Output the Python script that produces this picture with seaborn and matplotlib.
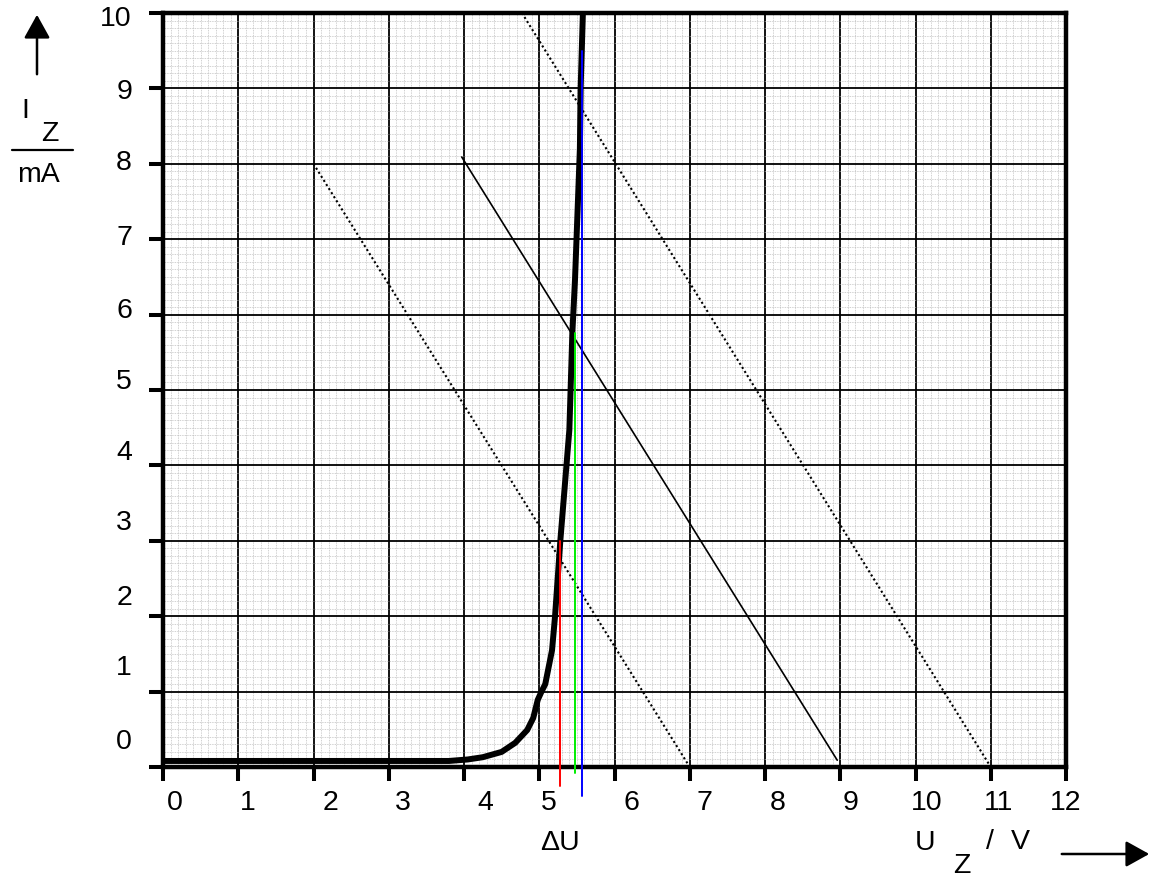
import matplotlib
matplotlib.use("Agg")
import matplotlib.pyplot as plt
from matplotlib.lines import Line2D
from matplotlib.patches import FancyArrowPatch
import seaborn as sns
import numpy as np

# ---------------- data ----------------
# Zener diode characteristic I_Z(U_Z)
curve_u = [0.0, 3.80, 4.05, 4.25, 4.50, 4.68, 4.84, 4.92, 4.98, 5.03, 5.08, 5.17,
           5.21, 5.28, 5.40, 5.44, 5.475, 5.54, 5.55, 5.58]
curve_i = [0.08, 0.08, 0.10, 0.13, 0.20, 0.32, 0.49, 0.65, 0.89, 1.00, 1.10, 1.55,
           2.00, 3.00, 4.47, 5.76, 6.46, 8.20, 9.00, 10.0]

# load lines (endpoints)
load_lo_u = [2.0, 7.0]
load_lo_i = [8.0, 0.0]
load_mid_u = [3.97, 8.96]
load_mid_i = [8.09, 0.09]
load_hi_u = [4.77, 11.0]
load_hi_i = [10.0, 0.0]

# operating points (vertical markers)
op_red_u = [5.28, 5.28]
op_red_i = [-0.25, 3.0]
op_green_u = [5.475, 5.475]
op_green_i = [-0.08, 5.76]
op_blue_u = [5.57, 5.57]
op_blue_i = [-0.38, 9.49]

x_ticks = list(range(0, 13))
y_ticks = list(range(0, 11))
x_tick_labels = [str(v) for v in x_ticks]
y_tick_labels = [str(v) for v in y_ticks]

# ---------------- style ----------------
# label anchor positions (hand placed in the original)
x_label_pos = [0.16, 1.12, 2.22, 3.19, 4.28, 5.13, 6.23, 7.20, 8.17, 9.14, 10.15, 11.10, 11.99]
y_label_pos = [0.33, 1.31, 2.24, 3.24, 4.16, 5.10, 6.05, 7.02, 8.01, 8.95, 9.92]

sns.set_theme(style="white")
plt.rcParams['font.family'] = ['Liberation Sans', 'DejaVu Sans']
plt.rcParams['text.color'] = 'black'
FS = 20.5

W, H = 1152, 881
fig = plt.figure(figsize=(W / 100, H / 100), dpi=100)
ax = fig.add_axes([163 / W, 1 - 767 / H, (1066 - 163) / W, (767 - 13) / H])

ax.set_xlim(0, 12)
ax.set_ylim(0, 10)

# grid
ax.set_xticks(x_ticks)
ax.set_yticks(y_ticks)
ax.set_xticks(np.arange(0, 12.01, 0.1), minor=True)
ax.set_yticks(np.arange(0, 10.01, 0.1), minor=True)
ax.grid(which='minor', color='#b4b4b4', linestyle=(0, (1.2, 1.2)), linewidth=0.5)
ax.grid(which='major', color='black', linestyle='-', linewidth=1.3)
ax.set_axisbelow(True)

for s in ax.spines.values():
    s.set_visible(True)
    s.set_linewidth(3.2)
    s.set_color('black')

ax.tick_params(which='major', direction='out', length=10, width=2.9, color='black',
               bottom=True, left=True, top=False, right=False,
               labelbottom=False, labelleft=False)
ax.tick_params(which='minor', length=0)

# tick labels (hand placed as in the original)
y_ax = (767 - 803) / (767 - 13)
for pos, lab in zip(x_label_pos, x_tick_labels):
    ax.text(pos, y_ax, lab, transform=ax.get_xaxis_transform(), color='black',
            ha='center', va='center', fontsize=FS, clip_on=False)
x_ax = (132 - 163) / (1066 - 163)
for pos, lab in zip(y_label_pos, y_tick_labels):
    ax.text(x_ax, pos, lab, transform=ax.get_yaxis_transform(), color='black',
            ha='right', va='center', fontsize=FS, clip_on=False)

# load lines
sns.lineplot(x=load_lo_u, y=load_lo_i, ax=ax, color='black', lw=1.5,
             linestyle=(0, (1, 1.3)), sort=False, estimator=None)
sns.lineplot(x=load_hi_u, y=load_hi_i, ax=ax, color='black', lw=1.5,
             linestyle=(0, (1, 1.3)), sort=False, estimator=None)
sns.lineplot(x=load_mid_u, y=load_mid_i, ax=ax, color='black', lw=1.2,
             sort=False, estimator=None)

# characteristic
sns.lineplot(x=curve_u, y=curve_i, ax=ax, color='black', lw=4.3,
             sort=False, estimator=None, solid_capstyle='butt', solid_joinstyle='round')

# operating point markers
ax.plot(op_red_u, op_red_i, color='#ff0000', lw=1.4, clip_on=False, zorder=5)
ax.plot(op_green_u, op_green_i, color='#00ee00', lw=1.4, clip_on=False, zorder=5)
ax.plot(op_blue_u, op_blue_i, color='#0000ff', lw=1.4, clip_on=False, zorder=5)

ax.set_xlabel('')
ax.set_ylabel('')

# ---------------- axis titles ----------------
def fx(px):
    return px / W

def fy(py):
    return 1 - py / H

fig.text(fx(25), fy(111), 'I', fontsize=FS, ha='center', va='center')
fig.text(fx(50), fy(134), 'Z', fontsize=FS, ha='center', va='center')
fig.add_artist(Line2D([fx(12), fx(73)], [fy(150), fy(150)], color='black', lw=1.6,
                      transform=fig.transFigure))
fig.text(fx(38), fy(175), 'mA', fontsize=FS, ha='center', va='center')
fig.add_artist(FancyArrowPatch(
    (fx(37), fy(77)), (fx(37), fy(12)), transform=fig.transFigure,
    arrowstyle='-|>,head_length=0.9,head_width=0.5', mutation_scale=16, lw=1.8,
    color='black'))

fig.text(fx(560), fy(843), 'ΔU', fontsize=FS, ha='center', va='center')
fig.text(fx(925), fy(843), 'U', fontsize=FS, ha='center', va='center')
fig.text(fx(962), fy(866), 'Z', fontsize=FS, ha='center', va='center')
fig.text(fx(990), fy(842), '/', fontsize=FS, ha='center', va='center')
fig.text(fx(1020), fy(842), 'V', fontsize=FS, ha='center', va='center')
fig.add_artist(FancyArrowPatch(
    (fx(1059), fy(854)), (fx(1152), fy(854)), transform=fig.transFigure,
    arrowstyle='-|>,head_length=0.9,head_width=0.5', mutation_scale=16, lw=1.8,
    color='black'))

fig.savefig('out.png', dpi=100)
